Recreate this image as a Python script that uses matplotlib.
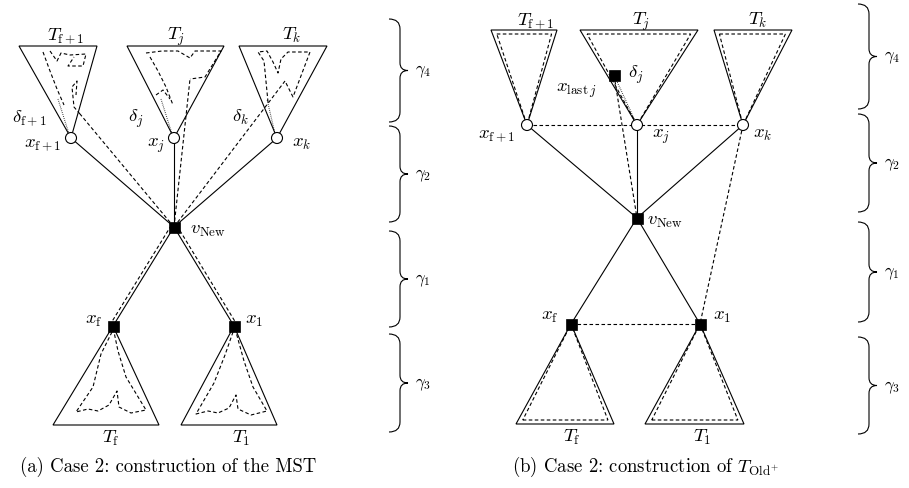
import numpy as np
import matplotlib
matplotlib.use("Agg")
import matplotlib.pyplot as plt
from matplotlib.path import Path
from matplotlib.patches import PathPatch, Polygon, Circle, Rectangle

plt.rcParams["mathtext.fontset"] = "cm"

# ---------------- data (pixel layout of the diagram) ----------------
# Panel (a)
a_circles = {"f1": (71, 139), "j": (174, 139), "k": (277, 139)}
a_squares = {"new": (174, 228), "xf": (113, 327), "x1": (234, 327)}
a_top_tris = [(19, 97, 47, "f1"), (127, 224, 47, "j"), (239, 327, 47, "k")]
a_bot_tris = [(53, 159, 426, "xf"), (181, 277, 426, "x1")]
a_solid = [("f1", "new"), ("j", "new"), ("k", "new"), ("new", "xf"), ("new", "x1")]
a_dash_into = [(80, 115), (190, 80), (285, 82)]
a_squig = [
    [(43, 53), (50, 72), (57, 90), (64, 106)],
    [(50, 52), (57, 62), (61, 54), (70, 56), (86, 55), (83, 67), (68, 67), (74, 58)],
    [(80, 115), (74, 108), (72, 88), (77, 82), (76, 96)],
    [(146, 54), (162, 52), (178, 52), (190, 59), (195, 52), (221, 52), (205, 78), (190, 80)],
    [(150, 58), (158, 72), (166, 88), (173, 106)],
    [(156, 96), (163, 91), (170, 100)],
    [(268, 103), (264, 62), (258, 53), (267, 52), (273, 63), (278, 74), (281, 60),
     (288, 53), (310, 53), (293, 98), (285, 82)],
    [(112, 333), (101, 355), (93, 388), (76, 413), (88, 410), (98, 412), (109, 406),
     (117, 392), (119, 408), (131, 414), (146, 411), (126, 378), (118, 352), (114, 333)],
    [(233, 333), (225, 356), (214, 384), (196, 415), (208, 412), (218, 414), (229, 409),
     (236, 396), (238, 410), (251, 416), (267, 412), (253, 388), (244, 362), (236, 333)],
]
a_dotted = [((69, 135), (58, 100)), ((172, 135), (161, 100)), ((275, 135), (267, 100))]
a_brace_x = 389
a_braces = [(20, 123, r"$\gamma_4$"), (127, 223, r"$\gamma_2$"),
            (232, 328, r"$\gamma_1$"), (335, 433, r"$\gamma_3$")]
a_labels = [
    (47, 40, r"$T_{\mathrm{f}+1}$"), (167, 40, r"$T_j$"), (282, 40, r"$T_k$"),
    (12, 122, r"$\delta_{\mathrm{f}+1}$"), (24, 147, r"$x_{\mathrm{f}+1}$"),
    (128, 122, r"$\delta_j$"), (147, 147, r"$x_j$"),
    (232, 122, r"$\delta_k$"), (292, 147, r"$x_k$"),
    (190, 234, r"$v_{\mathrm{New}}$"),
    (85, 324, r"$x_{\mathrm{f}}$"), (245, 324, r"$x_1$"),
    (102, 443, r"$T_{\mathrm{f}}$"), (232, 443, r"$T_1$"),
]
a_caption = (20, 472, "(a) Case 2: construction of the MST")

# Panel (b)
b_circles = {"f1": (527, 126), "j": (637, 126), "k": (743, 126)}
b_squares = {"new": (637, 219), "last": (614, 76), "xf": (571, 325), "x1": (700, 325)}
b_top_tris = [(491, 557, 31, "f1"), (580, 698, 31, "j"), (714, 792, 31, "k")]
b_bot_tris = [(516, 614, 425, "xf"), (645, 744, 425, "x1")]
b_solid = [("f1", "new"), ("j", "new"), ("k", "new"), ("new", "xf"), ("new", "x1")]
b_dashed = [("f1", "k"), ("xf", "x1"), ("last", "new"), ("k", "x1")]
b_dotted = [("last", "j")]
b_brace_x = 858
b_braces = [(5, 110, r"$\gamma_4$"), (115, 213, r"$\gamma_2$"),
            (223, 323, r"$\gamma_1$"), (338, 435, r"$\gamma_3$")]
b_labels = [
    (517, 25, r"$T_{\mathrm{f}+1}$"), (632, 25, r"$T_j$"), (748, 25, r"$T_k$"),
    (628, 78, r"$\delta_j$"), (556, 92, r"$x_{\mathrm{last}\,j}$"),
    (478, 138, r"$x_{\mathrm{f}+1}$"), (652, 138, r"$x_j$"), (753, 138, r"$x_k$"),
    (647, 225, r"$v_{\mathrm{New}}$"),
    (541, 320, r"$x_{\mathrm{f}}$"), (713, 320, r"$x_1$"),
    (563, 442, r"$T_{\mathrm{f}}$"), (693, 442, r"$T_1$"),
]
b_caption = (512, 472, r"(b) Case 2: construction of $T_{\mathrm{Old}^{+}}$")

# ---------------- drawing ----------------
W, H = 909, 489
fig = plt.figure(figsize=(W / 100, H / 100), dpi=100)
ax = fig.add_axes([0, 0, 1, 1])
ax.set_xlim(0, W)
ax.set_ylim(H, 0)
ax.axis("off")

LW = 0.8
DASH = (0, (3.2, 2.2))
DOT = (0, (0.6, 1.2))
FS = 13.5


def line(p, q, ls="-", z=2):
    ax.plot([p[0], q[0]], [p[1], q[1]], color="black", lw=LW, ls=ls, zorder=z,
            solid_capstyle="butt")


def inner_tri(pts, d, keep_apex=True):
    pts = np.array(pts, float)
    a = np.linalg.norm(pts[1] - pts[2])
    b = np.linalg.norm(pts[0] - pts[2])
    c = np.linalg.norm(pts[0] - pts[1])
    inc = (a * pts[0] + b * pts[1] + c * pts[2]) / (a + b + c)
    s = (a + b + c) / 2
    v1, v2 = pts[1] - pts[0], pts[2] - pts[0]
    area = abs(v1[0] * v2[1] - v1[1] * v2[0]) / 2
    r = area / s
    new = inc + (pts - inc) * (r - d) / r
    if keep_apex:
        new[2] = pts[2]
    return new


def brace(x0, y0, y1, label, hook=11, tip=8, q=10):
    xv = x0 + hook
    ym = (y0 + y1) / 2
    verts = [(x0, y0), (xv, y0), (xv, y0 + q),
             (xv, ym - q / 1.3),
             (xv, ym), (xv + tip, ym),
             (xv, ym), (xv, ym + q / 1.3),
             (xv, y1 - q),
             (xv, y1), (x0, y1)]
    codes = [Path.MOVETO, Path.CURVE3, Path.CURVE3,
             Path.LINETO,
             Path.CURVE3, Path.CURVE3,
             Path.CURVE3, Path.CURVE3,
             Path.LINETO,
             Path.CURVE3, Path.CURVE3]
    ax.add_patch(PathPatch(Path(verts, codes), fc="none", ec="black", lw=LW))
    ax.text(xv + tip + 7, ym, label, fontsize=12, va="center", ha="left")


def draw_panel(circles, squares, top_tris, bot_tris, solid, labels, caption,
               braces, brace_x):
    nodes = dict(circles)
    nodes.update(squares)
    for l, r, y, ap in top_tris + bot_tris:
        ax.add_patch(Polygon([(l, y), (r, y), nodes[ap]], closed=True, fc="none",
                             ec="black", lw=LW, zorder=2))
    for p, q in solid:
        line(nodes[p], nodes[q])
    for name, (x, y) in circles.items():
        ax.add_patch(Circle((x, y), 5.5, fc="white", ec="black", lw=LW, zorder=5))
    for name, (x, y) in squares.items():
        s = 11
        ax.add_patch(Rectangle((x - s / 2, y - s / 2), s, s, fc="black", ec="black",
                               lw=0.5, zorder=6))
    for x, y, t in labels:
        ax.text(x, y, t, fontsize=FS, ha="left", va="baseline", zorder=7)
    cx, cy, ct = caption
    ax.text(cx, cy, ct, fontsize=13.5, family="cmr10", ha="left", va="baseline")
    for y0, y1, lab in braces:
        brace(brace_x, y0, y1, lab)
    return nodes


# Panel (a)
na = draw_panel(a_circles, a_squares, a_top_tris, a_bot_tris, a_solid, a_labels,
                a_caption, a_braces, a_brace_x)
for p in a_dash_into:
    line(na["new"], p, ls=DASH)
for pts in a_squig:
    arr = np.array(pts)
    ax.plot(arr[:, 0], arr[:, 1], color="black", lw=LW, ls=DASH, zorder=2)
for p, q in a_dotted:
    line(p, q, ls=DOT)
# parallel dashed companions of the lower edges
for tgt in ("xf", "x1"):
    p = np.array(na["new"], float)
    q = np.array(na[tgt], float)
    d = q - p
    nrm = np.array([-d[1], d[0]]) / np.linalg.norm(d)
    off = nrm * 3.2 * (1 if tgt == "xf" else -1)
    line(p + off, q + off, ls=DASH)

# Panel (b)
nb = draw_panel(b_circles, b_squares, b_top_tris, b_bot_tris, b_solid, b_labels,
                b_caption, b_braces, b_brace_x)
for l, r, y, ap in b_top_tris + b_bot_tris:
    inn = inner_tri([(l, y), (r, y), nb[ap]], 4.0)
    ax.add_patch(Polygon(inn, closed=True, fc="none", ec="black", lw=LW, ls=DASH,
                         zorder=2))
for p, q in b_dashed:
    line(nb[p], nb[q], ls=DASH)
for p, q in b_dotted:
    line(nb[p], nb[q], ls=DOT)

fig.savefig("out.png", dpi=100)
